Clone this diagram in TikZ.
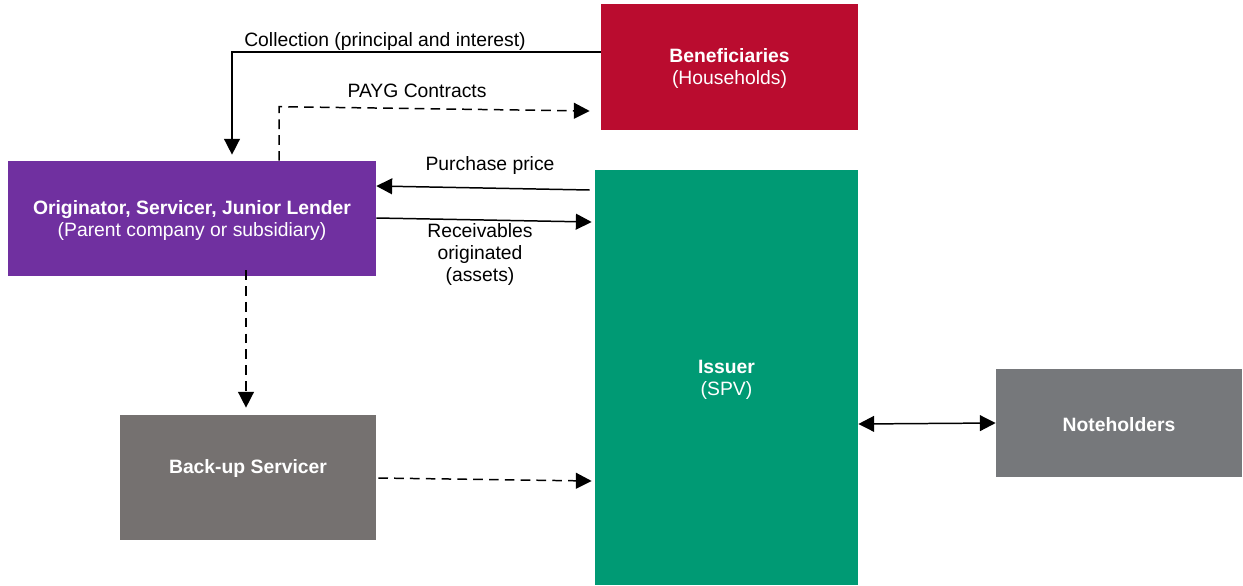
\documentclass[tikz,border=0pt]{standalone}
\usepackage{fontspec}
\setmainfont{Liberation Sans}
\usetikzlibrary{arrows.meta,calc}
\definecolor{benefc}{HTML}{BA0C2F}
\definecolor{origc}{HTML}{7030A0}
\definecolor{issuerc}{HTML}{009A74}
\definecolor{backc}{HTML}{757170}
\definecolor{notec}{HTML}{76787B}
\tikzset{
  box/.style={draw=none, text=white, align=center, inner sep=0pt, font=\fontsize{11}{12.5}\selectfont},
  lbl/.style={align=center, inner sep=0pt, font=\fontsize{11}{12.5}\selectfont},
  tip/.tip={Triangle[length=9pt,width=9pt]},
  conn/.style={line width=0.85pt, -tip},
  dconn/.style={conn, dash pattern=on 5.5pt off 3.5pt},
}
\begin{document}
\begin{tikzpicture}[x=0.02cm,y=-0.02cm]
\useasboundingbox (0,0) rectangle (1243,585);
\node[box, fill=benefc, minimum width=5.14cm, minimum height=2.52cm] (benef) at (729.5,67) {};
\node[box] (beneftxt) at (729.5,68.5) {\textbf{Beneficiaries}\\(Households)};
\node[box, fill=origc, minimum width=7.36cm, minimum height=2.3cm] (orig) at (192,218.5) {};
\node[box] (origtxt) at (192,220.5) {\textbf{Originator, Servicer, Junior Lender}\\(Parent company or subsidiary)};
\node[box, fill=issuerc, minimum width=5.26cm, minimum height=8.3cm] (issuer) at (726.5,377.5) {};
\node[box] (issuertxt) at (726.5,379.5) {\textbf{Issuer}\\(SPV)};
\node[box, fill=backc, minimum width=5.12cm, minimum height=2.5cm] (back) at (248,477.5) {};
\node[box] (backtxt) at (248,468) {\textbf{Back-up Servicer}};
\node[box, fill=notec, minimum width=4.92cm, minimum height=2.16cm] (note) at (1119,423) {};
\node[box] (notetxt) at (1119,424.5) {\textbf{Noteholders}};

% Collection
\coordinate (c1) at ($(benef.west)+(0,-15)$);
\coordinate (c2) at ($(orig.north)+(40,-6)$);
\draw[conn] (c1) -| (c2);
\node[lbl] (lcol) at (385,41.5) {Collection (principal and interest)};

% PAYG
\coordinate (p1) at ($(orig.north)+(87,0)$);
\coordinate (p2) at ($(orig.north)+(87,-54)$);
\coordinate (p3) at ($(benef.west)+(-11,44)$);
\draw[dconn] (p1) -- (p2) -- (p3);
\node[lbl] (lpayg) at (417,90.5) {PAYG Contracts};

% Purchase price
\coordinate (q1) at ($(issuer.west)+(-5,-187.5)$);
\coordinate (q2) at ($(orig.east)+(0,-32.5)$);
\draw[conn] (q1) -- (q2);
\node[lbl] (lpp) at (490,165.5) {Purchase price};

% Receivables
\coordinate (r1) at ($(orig.east)+(0,-0.5)$);
\coordinate (r2) at ($(issuer.west)+(-3,-155.5)$);
\draw[conn] (r1) -- (r2);
\node[lbl] (lrec) at (480,254.5) {Receivables\\originated\\(assets)};

% Originator -> Back-up
\coordinate (d1) at ($(orig.south)+(54,-6)$);
\coordinate (d2) at ($(back.north)+(-2,-7)$);
\draw[dconn] (d1) -- (d2);

% Back-up -> Issuer
\coordinate (b1) at ($(back.east)+(2,0.5)$);
\coordinate (b2) at ($(issuer.west)+(-3,103.5)$);
\draw[dconn] (b1) -- (b2);

% Issuer <-> Noteholders
\coordinate (n1) at ($(issuer.east)+(0,46.5)$);
\coordinate (n2) at (note.west);
\draw[conn, tip-tip] (n1) -- (n2);
\end{tikzpicture}
\end{document}
